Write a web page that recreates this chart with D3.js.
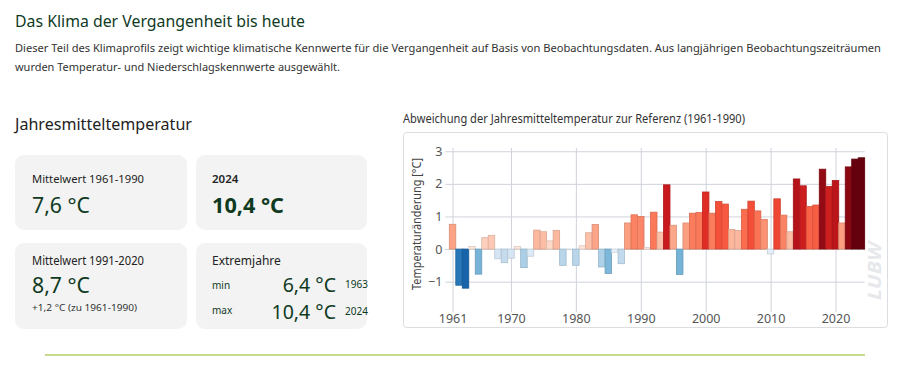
<!DOCTYPE html>
<html>
<head>
<meta charset="utf-8">
<script src="https://cdn.jsdelivr.net/npm/d3@7"></script>
<style>
  body { margin: 0; background: #fff; }
  svg { display: block; font-family: "Noto Sans", sans-serif; }
</style>
</head>
<body>
<div id="svgContainer"></div>
<script>
// Abweichung der Jahresmitteltemperatur zur Referenz 1961-1990 (°C)
const years = d3.range(1961, 2025);
const anomalies = [
  0.76, -1.11, -1.2, 0.08, -0.77, 0.35, 0.42, -0.3, -0.42, -0.28,
  0.08, -0.57, -0.22, 0.58, 0.53, 0.25, 0.57, -0.5, -0.02, -0.5,
  0.1, 0.5, 0.75, -0.55, -0.75, -0.1, -0.45, 0.8, 1.05, 1.0,
  0.05, 1.13, 0.52, 1.97, 0.73, -0.78, 0.8, 1.1, 1.12, 1.75,
  1.1, 1.46, 1.38, 0.6, 0.57, 1.22, 1.47, 1.17, 0.91, -0.15,
  1.54, 1.04, 0.53, 2.15, 1.94, 1.31, 1.35, 2.45, 1.92, 2.1,
  0.8, 2.52, 2.76, 2.8
];
const yearTicks = [1961, 1970, 1980, 1990, 2000, 2010, 2020];
const tempTicks = [-1, 0, 1, 2, 3];

const introLines = [
  "Dieser Teil des Klimaprofils zeigt wichtige klimatische Kennwerte für die Vergangenheit auf Basis von Beobachtungsdaten. Aus langjährigen Beobachtungszeiträumen",
  "wurden Temperatur- und Niederschlagskennwerte ausgewählt."
];

const width = 900, height = 372;
const green = "#0f3a1f";

let svg = d3.select("#svgContainer").append("svg")
    .attr("width", width)
    .attr("height", height);

// header
svg.append("text")
    .attr("x", 15).attr("y", 27)
    .attr("font-size", 17)
    .attr("fill", green)
    .attr("textLength", 290).attr("lengthAdjust", "spacingAndGlyphs")
    .text("Das Klima der Vergangenheit bis heute");

const introWidths = [866, 325];
svg.selectAll(".intro")
    .data(introLines)
    .join("text")
    .attr("class", "intro")
    .attr("x", 15)
    .attr("y", (d, i) => 52 + i * 18.5)
    .attr("font-size", 12)
    .style("font-stretch", "semi-condensed")
    .attr("fill", "#333")
    .text(d => d)
    .each(function (d, i) {
        // keep the natural width inside the page, then fit to the reference width
        let w = this.getComputedTextLength();
        if (w > introWidths[i]) {
            d3.select(this).attr("font-size", 12 * introWidths[i] / w);
        }
        d3.select(this).attr("textLength", introWidths[i]).attr("lengthAdjust", "spacingAndGlyphs");
    });

svg.append("text")
    .attr("x", 15).attr("y", 130)
    .attr("font-size", 17)
    .attr("fill", "#222")
    .attr("textLength", 177).attr("lengthAdjust", "spacingAndGlyphs")
    .text("Jahresmitteltemperatur");

// cards
const cards = [
  { x: 15, y: 155, w: 172, h: 75 },
  { x: 196, y: 155, w: 171, h: 75 },
  { x: 15, y: 243, w: 172, h: 86 },
  { x: 196, y: 243, w: 171, h: 86 }
];
svg.selectAll(".card")
    .data(cards)
    .join("rect")
    .attr("class", "card")
    .attr("x", d => d.x).attr("y", d => d.y)
    .attr("width", d => d.w).attr("height", d => d.h)
    .attr("rx", 9)
    .attr("fill", "#f2f3f2");

function label(x, y, size, txt, opts = {}) {
    let t = svg.append("text")
        .attr("x", x).attr("y", y)
        .attr("font-size", size)
        .attr("fill", opts.fill || "#222")
        .attr("font-weight", opts.weight || "normal")
        .attr("text-anchor", opts.anchor || "start")
        .text(txt);
    if (opts.len) t.attr("textLength", opts.len).attr("lengthAdjust", "spacingAndGlyphs");
    return t;
}

label(32, 183, 11.5, "Mittelwert 1961-1990", { len: 112 });
label(32, 213, 22, "7,6 °C", { fill: green, len: 58 });
label(212, 183, 11.5, "2024", { weight: 600 });
label(212, 213, 22, "10,4 °C", { fill: green, weight: "bold", len: 72 });

label(32, 265, 12, "Mittelwert 1991-2020", { len: 112 });
label(32, 293, 22, "8,7 °C", { fill: green, len: 58 });
label(32, 311, 9.5, "+1,2 °C (zu 1961-1990)", { fill: "#333", len: 105 });

label(212, 265, 12, "Extremjahre");
label(212, 289, 10, "min", { fill: green });
label(336, 291.5, 19.5, "6,4 °C", { fill: green, anchor: "end" });
label(345, 288, 10, "1963", { fill: green });
label(212, 314, 10, "max", { fill: green });
label(336, 319, 19.5, "10,4 °C", { fill: green, anchor: "end" });
label(345, 315, 10, "2024", { fill: green });

// chart
svg.append("text")
    .attr("x", 403).attr("y", 123)
    .attr("font-size", 12)
    .attr("fill", "#333")
    .attr("textLength", 342).attr("lengthAdjust", "spacingAndGlyphs")
    .text("Abweichung der Jahresmitteltemperatur zur Referenz (1961-1990)");

svg.append("rect")
    .attr("x", 403.5).attr("y", 132.5)
    .attr("width", 484).attr("height", 195)
    .attr("rx", 3)
    .attr("fill", "#fff")
    .attr("stroke", "#dcdde0");

const plot = { left: 449.3, right: 864.7, top: 148, bottom: 310 };

let x = d3.scaleBand()
    .domain(years)
    .range([plot.left, plot.right])
    .padding(0);
let xPos = d3.scaleLinear()
    .domain([1960.5, 2024.5])
    .range([plot.left, plot.right]);
let y = d3.scaleLinear()
    .domain([-1.87, 3.1])
    .range([plot.bottom, plot.top]);

let reds = d3.scaleLinear().domain([0, 2.15, 2.75]).range([0.05, 0.82, 1]).clamp(true);
let blues = d3.scalePow().exponent(1.3).domain([0, 1.2]).range([0.05, 0.8]).clamp(true);
const colour = v => v >= 0 ? d3.interpolateReds(reds(v)) : d3.interpolateBlues(blues(-v));

// watermark
svg.append("text")
    .attr("transform", "translate(881,271) rotate(-90)")
    .attr("text-anchor", "middle")
    .attr("font-size", 17)
    .attr("font-weight", "bold")
    .attr("font-style", "italic")
    .attr("fill", "#e6e8eb")
    .attr("textLength", 58).attr("lengthAdjust", "spacingAndGlyphs")
    .text("LUBW");

let yAxis = svg.append("g")
    .attr("transform", `translate(${plot.left + 2},0)`)
    .call(d3.axisLeft(y)
        .tickValues(tempTicks)
        .tickSize(-(plot.right - plot.left - 2))
        .tickSizeOuter(0)
        .tickPadding(9)
        .tickFormat(d3.format("d")));
yAxis.select(".domain").remove();
yAxis.selectAll("line").attr("x1", -6).attr("stroke", "#cfd3da");
yAxis.selectAll("text").attr("font-size", 12.5).attr("fill", "#555").attr("font-family", "Noto Sans");

let xAxis = svg.append("g")
    .attr("transform", `translate(0,${plot.bottom})`)
    .call(d3.axisBottom(xPos)
        .tickValues(yearTicks)
        .tickSize(-(plot.bottom - plot.top))
        .tickSizeOuter(0)
        .tickPadding(4)
        .tickFormat(d3.format("d")));
xAxis.select(".domain").remove();
xAxis.selectAll("line").attr("y1", 2).attr("stroke", "#cfd3da");
xAxis.selectAll("text").attr("font-size", 12.5).attr("fill", "#555").attr("font-family", "Noto Sans");

let data = years.map((yr, i) => ({ year: yr, value: anomalies[i] }));
svg.append("g")
    .selectAll("rect")
    .data(data)
    .join("rect")
    .attr("x", d => x(d.year))
    .attr("width", x.bandwidth())
    .attr("y", d => y(Math.max(0, d.value)))
    .attr("height", d => Math.abs(y(d.value) - y(0)))
    .attr("fill", d => colour(d.value))
    .attr("stroke", d => d3.color(colour(d.value)).darker(0.4))
    .attr("stroke-width", 0.8);

svg.append("text")
    .attr("transform", "translate(421,224) rotate(-90)")
    .attr("text-anchor", "middle")
    .attr("font-size", 12.5)
    .attr("fill", "#444")
    .attr("textLength", 132).attr("lengthAdjust", "spacingAndGlyphs")
    .text("Temperaturänderung [°C]");

// divider
svg.append("line")
    .attr("x1", 45).attr("x2", 865)
    .attr("y1", 355).attr("y2", 355)
    .attr("stroke", "#c6dc8a")
    .attr("stroke-width", 2);
</script>
</body>
</html>
